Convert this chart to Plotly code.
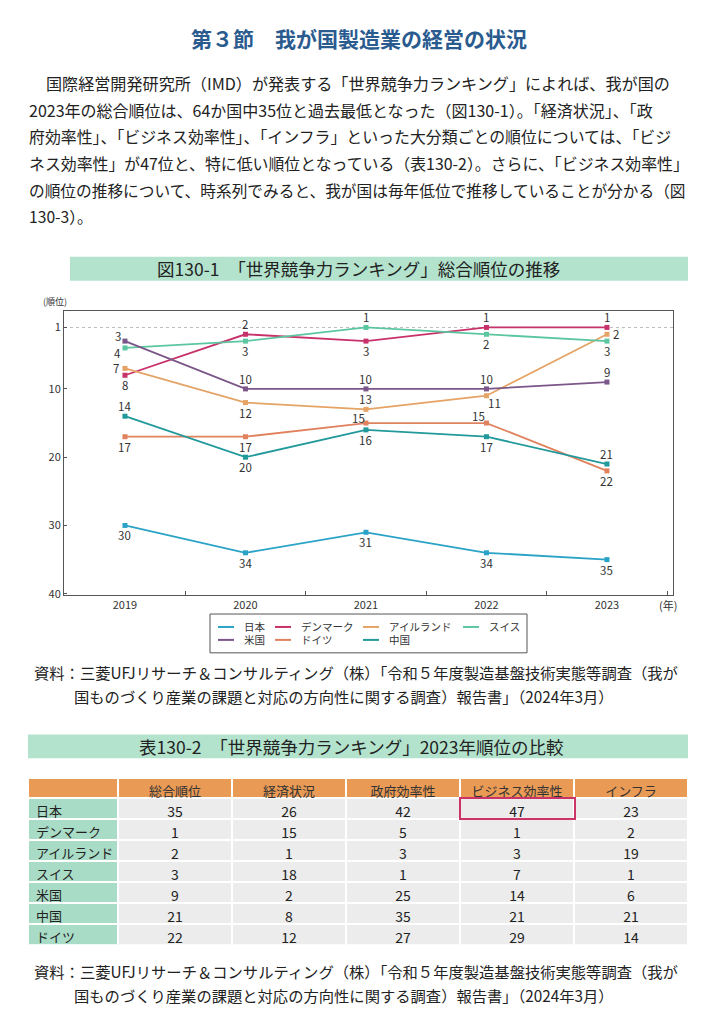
import plotly.graph_objects as go

# ---------------- data ----------------
years = ["2019", "2020", "2021", "2022", "2023"]
series_names = ["日本", "デンマーク", "アイルランド", "スイス", "米国", "ドイツ", "中国"]
rank_japan = [30, 34, 31, 34, 35]
rank_denmark = [8, 2, 3, 1, 1]
rank_ireland = [7, 12, 13, 11, 2]
rank_switzerland = [4, 3, 1, 2, 3]
rank_usa = [3, 10, 10, 10, 9]
rank_germany = [17, 17, 15, 15, 22]
rank_china = [14, 20, 16, 17, 21]
y_tick_values = [1, 10, 20, 30, 40]

table_header = ["総合順位", "経済状況", "政府効率性", "ビジネス効率性", "インフラ"]
table_countries = ["日本", "デンマーク", "アイルランド", "スイス", "米国", "中国", "ドイツ"]
overall_rank = [35, 1, 2, 3, 9, 21, 22]
economic_rank = [26, 15, 1, 18, 2, 8, 12]
government_rank = [42, 5, 3, 1, 25, 35, 27]
business_rank = [47, 1, 3, 7, 14, 21, 29]
infrastructure_rank = [23, 2, 19, 1, 6, 21, 14]

heading = "第３節　我が国製造業の経営の状況"
paragraph_lines = [
    "国際経営開発研究所（IMD）が発表する「世界競争力ランキング」によれば、我が国の",
    "2023年の総合順位は、64か国中35位と過去最低となった（図130-1）。「経済状況」、「政",
    "府効率性」、「ビジネス効率性」、「インフラ」といった大分類ごとの順位については、「ビジ",
    "ネス効率性」が47位と、特に低い順位となっている（表130-2）。さらに、「ビジネス効率性」",
    "の順位の推移について、時系列でみると、我が国は毎年低位で推移していることが分かる（図",
    "130-3）。",
]
chart_title = "図130-1　「世界競争力ランキング」総合順位の推移"
table_title = "表130-2　「世界競争力ランキング」2023年順位の比較"
source_lines = [
    "資料：三菱UFJリサーチ＆コンサルティング（株）「令和５年度製造基盤技術実態等調査（我が",
    "国ものづくり産業の課題と対応の方向性に関する調査）報告書」（2024年3月）",
]

# ---------------- style ----------------
W, H = 702, 1024
FONT = "Noto Sans CJK JP, Noto Sans, sans-serif"


def px(x):
    return x / W


def py(y):
    return 1 - y / H


series_values = [rank_japan, rank_denmark, rank_ireland, rank_switzerland,
                 rank_usa, rank_germany, rank_china]
colors = ["#2aa3c6", "#c8326a", "#e5a466", "#5cc6a0", "#7b5688", "#e0825e", "#22999a"]

# label offsets in pixels (dx right, dy down)
OFF = {"B": (0, 10), "BR": (8, 7.5), "T": (0, -10), "TLs": (-8, -7.5), "L": (-9, 0),
       "TL": (-7, -5), "BL": (-7, 5), "R": (9, 0)}
label_positions = [
    ["B", "B", "B", "B", "B"],
    ["B", "T", "B", "T", "T"],
    ["L", "B", "T", "BR", "R"],
    ["BL", "B", "T", "B", "B"],
    ["TL", "T", "T", "T", "T"],
    ["B", "B", "TL", "TLs", "B"],
    ["T", "B", "B", "B", "T"],
]

fig = go.Figure()
annotations = []

for name, vals, col, pos in zip(series_names, series_values, colors, label_positions):
    fig.add_trace(go.Scatter(
        x=years, y=vals, name=name, mode="lines+markers",
        line=dict(color=col, width=1.8),
        marker=dict(symbol="square", size=5, color=col),
        showlegend=False, cliponaxis=False, xaxis="x", yaxis="y",
    ))
    for idx, (v, p) in enumerate(zip(vals, pos)):
        dx, dy = OFF[p]
        annotations.append(dict(
            xref="x", yref="y", x=idx, y=v, text=str(v), showarrow=False,
            xshift=dx, yshift=-dy, xanchor="center", yanchor="middle", borderpad=0,
            font=dict(size=11.5, color="#333333", family=FONT)))

shapes = []
# reference dotted line at rank 1
shapes.append(dict(type="line", xref="paper", yref="y",
                   x0=px(56), x1=px(665), y0=1, y1=1,
                   line=dict(color="#bbbbbb", width=1, dash="dot"), layer="below"))

fig.update_layout(
    width=W, height=H, margin=dict(l=0, r=0, t=0, b=0),
    paper_bgcolor="white", plot_bgcolor="white",
    font=dict(family=FONT, color="#222222"),
    xaxis=dict(type="category", domain=[px(56), px(665)], range=[-0.506, 4.548],
               categoryorder="array", categoryarray=years,
               showline=True, linecolor="#555555", linewidth=1, mirror=True,
               ticks="inside", ticklen=4, tickcolor="#555555", tickson="boundaries",
               showgrid=False, zeroline=False,
               tickfont=dict(size=11, color="#333333")),
    yaxis=dict(domain=[py(590), py(304)], range=[40.2, -1.48],
               tickvals=y_tick_values, ticktext=[str(v) for v in y_tick_values],
               showline=True, linecolor="#555555", linewidth=1, mirror=True,
               ticks="inside", ticklen=3, tickcolor="#555555",
               showgrid=False, zeroline=False,
               tickfont=dict(size=11, color="#333333")),
)


def text(x, y, s, size, color="#222222", xanchor="left", bold=False):
    annotations.append(dict(
        xref="paper", yref="paper", x=px(x), y=py(y), text=("<b>%s</b>" % s) if bold else s,
        showarrow=False, xanchor=xanchor, yanchor="middle",
        font=dict(size=size, color=color, family=FONT)))


# heading
text(351, 30, heading, 21, color="#2a5b8f", xanchor="center", bold=True)

# paragraph
para_y0, para_dy = 75, 27
para_sizes = [16.1, 16.0, 15.9, 15.9, 15.7, 15.7]
for i, (line, size) in enumerate(zip(paragraph_lines, para_sizes)):
    x0 = 36 if i == 0 else 19
    text(x0, para_y0 + i * para_dy, line, size)

# chart title band
shapes.append(dict(type="rect", xref="paper", yref="paper", x0=px(62), x1=px(680),
                   y0=py(274), y1=py(250), fillcolor="#b3e3cd", line=dict(width=0), layer="below"))
text(350, 262, chart_title, 17.5, xanchor="center")

# axis captions
text(47, 295, "(順位)", 9, color="#333333", xanchor="center")
text(660, 600, "(年)", 11, color="#333333", xanchor="center")

# legend
legend_cols = [210, 267, 355, 455]
legend_rows = [622, 635]
shapes.append(dict(type="rect", xref="paper", yref="paper", x0=px(202), x1=px(519),
                   y0=py(648), y1=py(609), line=dict(color="#555555", width=1)))
for i, (name, col) in enumerate(zip(series_names, colors)):
    r, c = divmod(i, 4)
    lx, ly = legend_cols[c], legend_rows[r]
    shapes.append(dict(type="line", xref="paper", yref="paper", x0=px(lx), x1=px(lx + 16),
                       y0=py(ly), y1=py(ly), line=dict(color=col, width=2)))
    text(lx + 24, ly, name, 10.5, color="#333333")

# sources
for base in (667, 968):
    text(24, base, source_lines[0], 15.3)
    text(64, base + 24, source_lines[1], 15.3)

# table title band
shapes.append(dict(type="rect", xref="paper", yref="paper", x0=px(20), x1=px(680),
                   y0=py(754), y1=py(730), fillcolor="#b3e3cd", line=dict(width=0), layer="below"))
text(343, 742, table_title, 17.5, xanchor="center")

# table
mint = "#a9dcc6"
gray = "#ececec"
orange = "#e99a55"
cols_vals = [overall_rank, economic_rank, government_rank, business_rank, infrastructure_rank]
fig.add_trace(go.Table(
    domain=dict(x=[px(20), px(680)], y=[py(941), py(774)]),
    columnwidth=[90, 114, 114, 114, 114, 114],
    header=dict(values=[""] + table_header, fill_color=orange,
                line=dict(color="white", width=2), align="center", height=20,
                font=dict(size=13, color="#333333", family=FONT)),
    cells=dict(values=[table_countries] + cols_vals,
               fill_color=[[mint] * len(table_countries)] + [[gray] * len(table_countries)] * 5,
               line=dict(color="white", width=2), align=["left"] + ["center"] * 5, height=21,
               font=dict(size=[13] + [14] * 5, color="#222222", family=FONT)),
))

# highlight box
shapes.append(dict(type="rect", xref="paper", yref="paper", x0=px(452), x1=px(567),
                   y0=py(815), y1=py(794), line=dict(color="#cc3366", width=2)))

fig.update_layout(annotations=annotations, shapes=shapes)
fig.write_html("out.html")
